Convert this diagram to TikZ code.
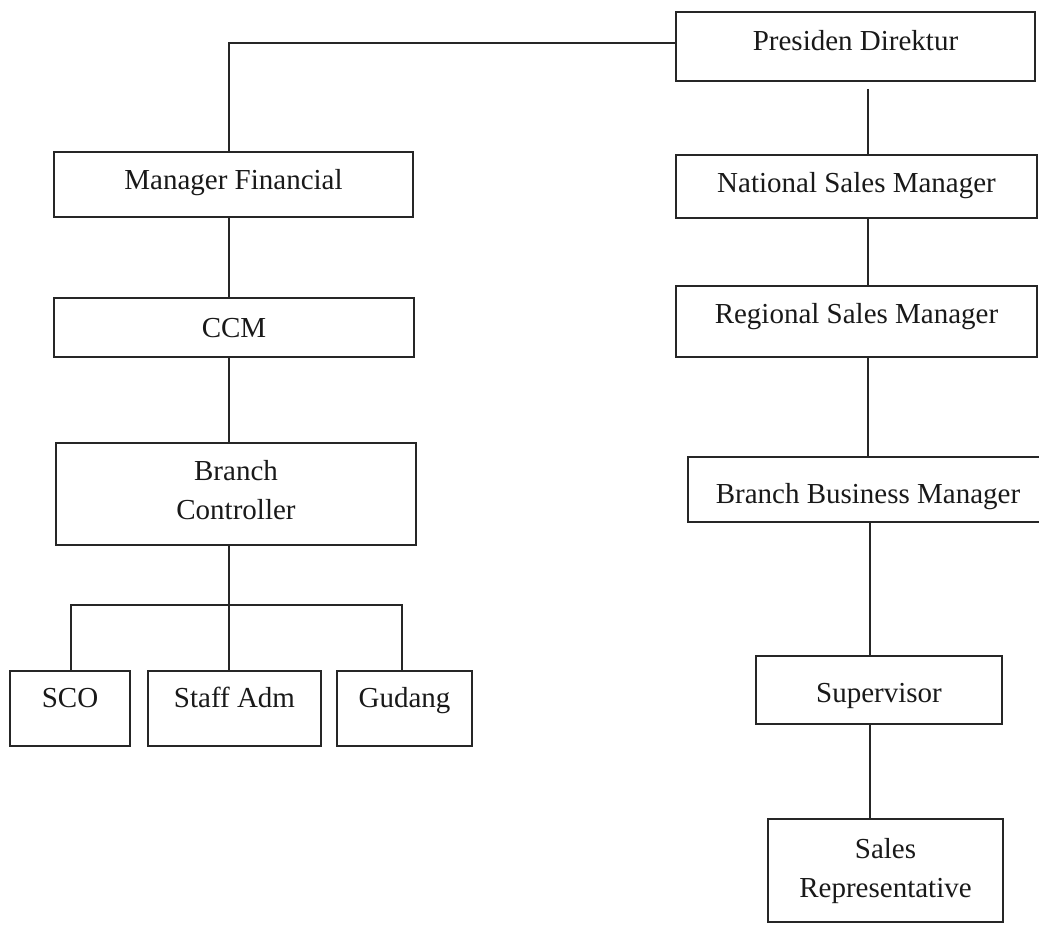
\documentclass[tikz,border=0pt]{standalone}
\usepackage{fontspec}
\setmainfont{Liberation Serif}
\begin{document}
\begin{tikzpicture}[x=1pt,y=-1pt,
  box/.style={draw=black!85, line width=1.6pt, inner sep=0pt,
    font=\fontsize{29}{39}\selectfont, text=black!90},
  link/.style={draw=black!85, line width=1.6pt}]
\useasboundingbox (0,0) rectangle (1039,924);
% right column
\node[box, minimum width=359pt, minimum height=69pt, text height=20pt, text depth=13pt] (P) at (855.5,46.5) {Presiden Direktur};
\node[box, minimum width=361pt, minimum height=63pt, text height=20pt, text depth=9pt] (NSM) at (856.5,186.5) {National Sales Manager};
\node[box, minimum width=361pt, minimum height=71pt, text height=20pt, text depth=17pt] (RSM) at (856.5,321.5) {Regional Sales Manager};
\node[box, minimum width=360pt, minimum height=65pt, text height=30pt, text depth=3pt] (BBM) at (868,489.5) {Branch Business Manager};
\node[box, minimum width=246pt, minimum height=68pt, text height=30pt, text depth=6pt] (SUP) at (879,690) {Supervisor};
\node[box, minimum width=235pt, minimum height=103pt, text height=10pt, text depth=35pt] (SR) at (885.5,870.5) {\parbox[t]{225pt}{\centering Sales\\Representative}};
% left column
\node[box, minimum width=359pt, minimum height=65pt, text height=20pt, text depth=11pt] (MF) at (233.5,184.5) {Manager Financial};
\node[box, minimum width=360pt, minimum height=59pt, text height=20pt, text depth=1pt] (CCM) at (234,327.5) {CCM};
\node[box, minimum width=360pt, minimum height=102pt, text height=10pt, text depth=38pt] (BC) at (236,494) {\parbox[t]{300pt}{\centering Branch\\Controller}};
\node[box, minimum width=120pt, minimum height=75pt, text height=20pt, text depth=23pt] (SCO) at (70,708.5) {SCO};
\node[box, minimum width=173pt, minimum height=75pt, text height=20pt, text depth=23pt] (SA) at (234.5,708.5) {Staff Adm};
\node[box, minimum width=135pt, minimum height=75pt, text height=20pt, text depth=23pt] (GD) at (404.5,708.5) {Gudang};
% helper coordinates
\coordinate (ytop) at (0,43);
\coordinate (XL) at (229,0);
\coordinate (XR) at (868,0);
\coordinate (XS) at (870,0);
\coordinate (bus) at (0,605);
\coordinate (xa) at (71,0);
\coordinate (xg) at (402,0);
% connectors
\draw[link] (P.west |- ytop) -| (XL |- MF.north);
\draw[link] (XL |- MF.south) -- (XL |- CCM.north);
\draw[link] (XL |- CCM.south) -- (XL |- BC.north);
\draw[link] (XL |- BC.south) -- (XL |- SA.north);
\draw[link] (xa |- SCO.north) |- (xg |- bus) -- (xg |- GD.north);
\draw[link, shorten <=7pt] (XR |- P.south) -- (XR |- NSM.north);
\draw[link] (XR |- NSM.south) -- (XR |- RSM.north);
\draw[link] (XR |- RSM.south) -- (XR |- BBM.north);
\draw[link] (XS |- BBM.south) -- (XS |- SUP.north);
\draw[link] (XS |- SUP.south) -- (XS |- SR.north);
\end{tikzpicture}
\end{document}
